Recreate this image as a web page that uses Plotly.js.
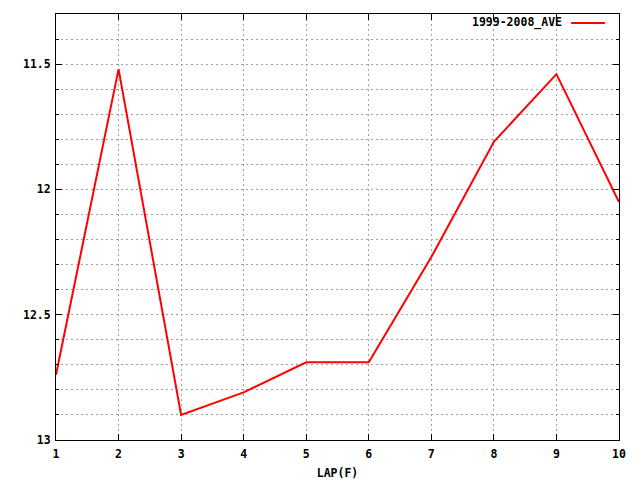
<!DOCTYPE html>
<html>
<head>
<meta charset="utf-8">
<script src="https://cdn.plot.ly/plotly-3.0.1.min.js"></script>
<style>html,body{margin:0;padding:0;background:#fff;}#chart{width:640px;height:480px;}</style>
</head>
<body>
<div id="chart"></div>
<script>
const laps = [1, 2, 3, 4, 5, 6, 7, 8, 9, 10];
const aveTimes = [12.74, 11.52, 12.90, 12.81, 12.69, 12.69, 12.27, 11.81, 11.54, 12.05];
const seriesName = "1999-2008_AVE";
const xTitle = "LAP(F)";

const fontFam = "'DejaVu Sans Mono', 'Liberation Mono', monospace";
const fsz = 11.5;
const trace = {
  x: laps, y: aveTimes, type: "scatter", mode: "lines", name: seriesName,
  line: {color: "#ff0000", width: 2}, showlegend: false
};
const gridCol = "#a0a0a0";
const gdash = "2px,3px";
const layout = {
  width: 640, height: 480,
  margin: {l: 56, r: 21, t: 14, b: 40},
  paper_bgcolor: "#fff", plot_bgcolor: "#fff",
  font: {family: fontFam, size: fsz, color: "#000", weight: "bold"},
  xaxis: {
    range: [1, 10], tick0: 1, dtick: 1,
    showgrid: true, gridcolor: gridCol, griddash: gdash, gridwidth: 1,
    zeroline: false, showline: true, linecolor: "#000", linewidth: 1, mirror: "ticks",
    ticks: "inside", ticklen: 6, tickcolor: "#000", ticklabelstandoff: 3,
    tickfont: {family: fontFam, size: fsz, weight: "bold"},
    title: {text: xTitle, font: {family: fontFam, size: fsz, weight: "bold"}, standoff: 9}
  },
  yaxis: {
    range: [13, 11.3], tick0: 11.5, dtick: 0.5,
    showgrid: true, gridcolor: gridCol, griddash: gdash, gridwidth: 1,
    zeroline: false, showline: true, linecolor: "#000", linewidth: 1, mirror: "ticks",
    ticks: "inside", ticklen: 6, tickcolor: "#000", ticklabelstandoff: 2,
    tickfont: {family: fontFam, size: fsz, weight: "bold"},
    minor: {dtick: 0.1, tick0: 11.3, ticks: "inside", ticklen: 3, tickcolor: "#000",
            showgrid: true, gridcolor: gridCol, griddash: gdash, gridwidth: 1}
  },
  annotations: [{
    xref: "paper", yref: "paper", x: 0.902, y: 0.979, xanchor: "right", yanchor: "middle",
    text: seriesName, showarrow: false,
    font: {family: fontFam, size: fsz, weight: "bold", color: "#000"}
  }],
  shapes: [{
    type: "line", xref: "paper", yref: "paper", x0: 0.915, x1: 0.975, y0: 0.979, y1: 0.979,
    line: {color: "#ff0000", width: 2}
  }]
};
Plotly.newPlot("chart", [trace], layout, {displayModeBar: false, staticPlot: true});
</script>
</body>
</html>
